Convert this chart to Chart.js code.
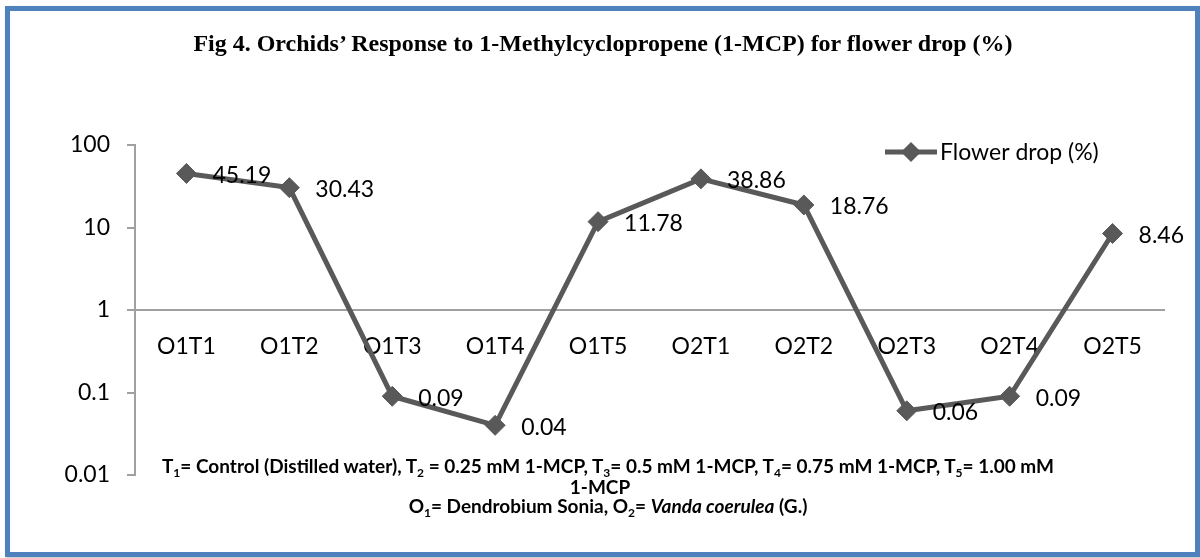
<!DOCTYPE html>
<html lang="en">
<head>
    <meta charset="UTF-8">
    <title>Flower drop (%)</title>
    <script src="https://cdn.jsdelivr.net/npm/chart.js"></script>
    <style>
        html, body { margin: 0; padding: 0; background: #fff; }
        #wrap { position: relative; width: 1200px; height: 558px; overflow: hidden; }
        #frame {
            position: absolute; left: 5px; top: 6px; width: 1185px; height: 541px;
            border: 5px solid #4f81bd; box-shadow: 1px 1px 2px rgba(0,0,0,0.25);
        }
        #chart { position: absolute; left: 0; top: 0; }
        .title {
            position: absolute; left: 0; width: 1206px; top: 30px; text-align: center;
            font: bold 24px "Liberation Serif", "Times New Roman", serif; color: #000;
        }
        .foot {
            position: absolute; left: 0; width: 1216px; text-align: center;
            font: bold 19px Lato, "Open Sans", sans-serif; color: #000; line-height: 20px;
        }
        .foot sub { font-size: 12px; vertical-align: -4px; line-height: 0; }
    </style>
</head>
<body>
<div id="wrap">
    <div id="frame"></div>
    <canvas id="chart" width="1200" height="558"></canvas>
    <div class="title">Fig 4. Orchids’ Response to 1-Methylcyclopropene (1-MCP) for flower drop (%)</div>
    <div class="foot" style="top:456px">T<sub>1</sub>= Control (Distilled water), T<sub>2</sub> = 0.25 mM 1-MCP, T<sub>3</sub>= 0.5 mM 1-MCP, T<sub>4</sub>= 0.75 mM 1-MCP, T<sub>5</sub>= 1.00 mM</div>
    <div class="foot" style="top:477px; width:1200px">1-MCP</div>
    <div class="foot" style="top:496px">O<sub>1</sub>= Dendrobium Sonia, O<sub>2</sub>= <i>Vanda coerulea</i> (G.)</div>
</div>

<script>
// data
const categories = ['O1T1', 'O1T2', 'O1T3', 'O1T4', 'O1T5', 'O2T1', 'O2T2', 'O2T3', 'O2T4', 'O2T5'];
const flowerDrop = [45.19, 30.43, 0.09, 0.04, 11.78, 38.86, 18.76, 0.06, 0.09, 8.46];
const yTicks = [0.01, 0.1, 1, 10, 100];
const seriesName = 'Flower drop (%)';

const LINE = '#595959';
const AXIS = '#a0a0a0';
const FONT = 'Lato, "Open Sans", sans-serif';

// value labels right of each marker
const valueLabels = {
    id: 'valueLabels',
    afterDatasetsDraw(chart) {
        const ctx = chart.ctx;
        const meta = chart.getDatasetMeta(0);
        ctx.save();
        ctx.font = '23px ' + FONT;
        ctx.fillStyle = '#000';
        ctx.textAlign = 'left';
        ctx.textBaseline = 'middle';
        meta.data.forEach((pt, i) => {
            ctx.fillText(flowerDrop[i].toFixed(2), pt.x + 26, pt.y + 2);
        });
        ctx.restore();
    }
};

// legend in top right corner
const cornerLegend = {
    id: 'cornerLegend',
    afterDraw(chart) {
        const ctx = chart.ctx;
        const y = 152;
        ctx.save();
        ctx.strokeStyle = LINE;
        ctx.lineWidth = 5;
        ctx.beginPath();
        ctx.moveTo(885, y);
        ctx.lineTo(937, y);
        ctx.stroke();
        ctx.fillStyle = LINE;
        ctx.beginPath();
        ctx.moveTo(911, y - 10);
        ctx.lineTo(921, y);
        ctx.lineTo(911, y + 10);
        ctx.lineTo(901, y);
        ctx.closePath();
        ctx.fill();
        ctx.fillStyle = '#000';
        ctx.font = '23px ' + FONT;
        ctx.textBaseline = 'middle';
        ctx.fillText(seriesName, 940, y + 1);
        ctx.restore();
    }
};

new Chart(document.getElementById('chart'), {
    type: 'line',
    data: {
        labels: categories,
        datasets: [{
            label: seriesName,
            data: flowerDrop,
            borderColor: LINE,
            backgroundColor: LINE,
            borderWidth: 5,
            pointStyle: 'rectRot',
            pointRadius: 10,
            pointBackgroundColor: LINE,
            pointBorderColor: LINE,
            pointBorderWidth: 1,
            tension: 0
        }]
    },
    options: {
        responsive: false,
        animation: false,
        layout: { padding: { left: 0, right: 36, top: 145, bottom: 83 } },
        plugins: { legend: { display: false }, tooltip: { enabled: false } },
        scales: {
            x: {
                type: 'category',
                offset: true,
                position: { y: 1 },
                grid: { display: false },
                border: { display: true, color: AXIS, width: 2 },
                ticks: { color: '#000', font: { family: FONT, size: 23 }, padding: 15, maxRotation: 0 }
            },
            y: {
                type: 'logarithmic',
                min: 0.01,
                max: 100,
                afterBuildTicks: (scale) => { scale.ticks = yTicks.map(v => ({ value: v })); },
                afterFit: (scale) => { scale.width = 135; },
                grid: { display: true, drawOnChartArea: false, drawTicks: true, tickLength: 8, color: AXIS, lineWidth: 2 },
                border: { display: true, color: AXIS, width: 2 },
                ticks: {
                    color: '#000', font: { family: FONT, size: 23 }, padding: 17,
                    callback: (v) => String(v)
                }
            }
        }
    },
    plugins: [valueLabels, cornerLegend]
});
</script>
</body>
</html>
